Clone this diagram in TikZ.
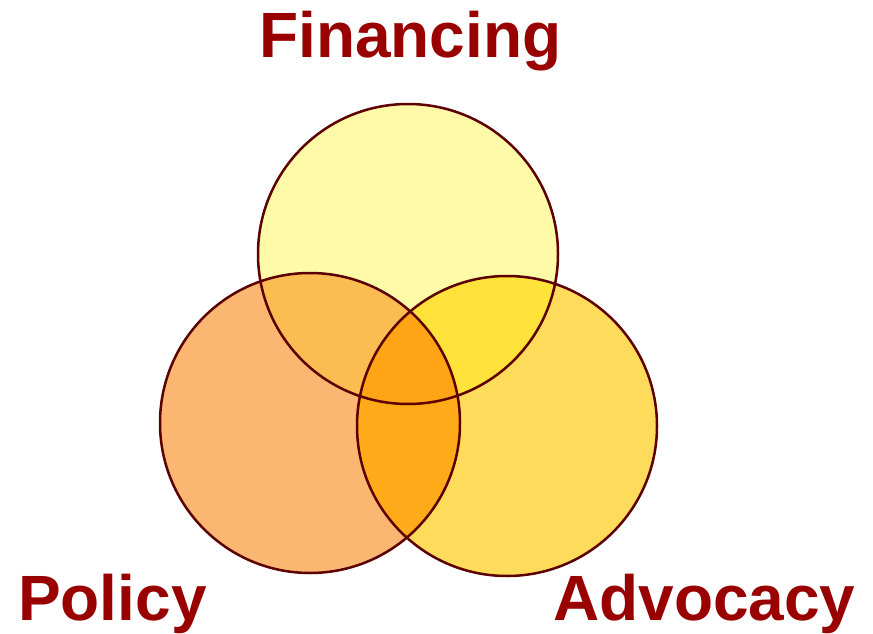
\documentclass[tikz,border=0pt]{standalone}
\usepackage{fontspec}
\setmainfont{Liberation Sans}
\definecolor{lbl}{HTML}{990000}
\definecolor{edge}{HTML}{5C0000}
\definecolor{topc}{HTML}{FFFAA8}
\definecolor{leftc}{HTML}{FBB672}
\definecolor{rightc}{HTML}{FFDB5C}
\definecolor{tlc}{HTML}{FBBC52}
\definecolor{trc}{HTML}{FFE23A}
\definecolor{lrc}{HTML}{FFAA18}
\definecolor{allc}{HTML}{FFA414}
\tikzset{
  lab/.style={font=\fontsize{64}{64}\selectfont\bfseries, text=lbl, inner sep=0pt, anchor=base west},
  rim/.style={draw=edge, line width=2.5pt}
}
\begin{document}
\begin{tikzpicture}[x=1pt,y=-1pt]
\useasboundingbox (0,0) rectangle (873,634);
\fill[white] (0,0) rectangle (873,634);
\coordinate (T) at (408,254);
\coordinate (L) at (310,423);
\coordinate (R) at (507,426);
\def\rr{150}
% single fills
\fill[leftc] (L) circle (\rr);
\fill[rightc] (R) circle (\rr);
\fill[topc] (T) circle (\rr);
% pairwise
\begin{scope}
  \clip (T) circle (\rr);
  \fill[tlc] (L) circle (\rr);
\end{scope}
\begin{scope}
  \clip (T) circle (\rr);
  \fill[trc] (R) circle (\rr);
\end{scope}
\begin{scope}
  \clip (L) circle (\rr);
  \fill[lrc] (R) circle (\rr);
\end{scope}
\begin{scope}
  \clip (L) circle (\rr);
  \clip (R) circle (\rr);
  \fill[allc] (T) circle (\rr);
\end{scope}
% outlines
\draw[rim] (T) circle (\rr);
\draw[rim] (L) circle (\rr);
\draw[rim] (R) circle (\rr);
% labels
\node[lab] (fin) at (259,58) {Financing};
\node[lab] (pol) at (18,620) {Policy};
\node[lab] (adv) at (553,620) {Advocacy};
\end{tikzpicture}
\end{document}
